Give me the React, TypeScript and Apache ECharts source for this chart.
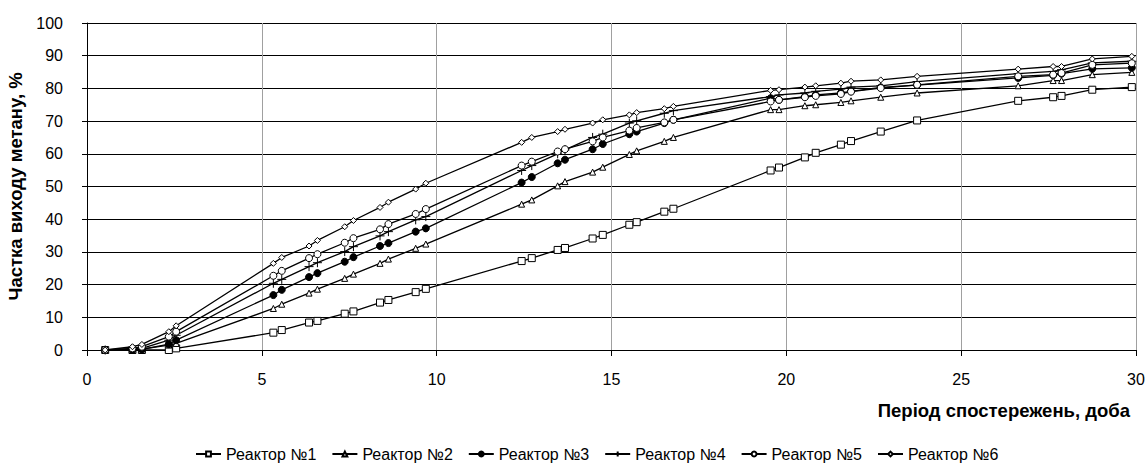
import React, { useEffect, useRef } from "react";
import * as echarts from "echarts";

const days = [0.52, 1.3, 1.57, 2.34, 2.55, 5.33, 5.57, 6.35, 6.59, 7.37, 7.62, 8.38, 8.62, 9.4, 9.69, 12.43, 12.72, 13.46, 13.67, 14.46, 14.75, 15.51, 15.72, 16.51, 16.77, 19.55, 19.79, 20.53, 20.84, 21.56, 21.85, 22.7, 23.74, 26.63, 27.63, 27.87, 28.75, 29.88];

const reactor1 = [0, 0, 0, 0, 0.5, 5.3, 6.1, 8.4, 8.9, 11.1, 11.8, 14.5, 15.3, 17.7, 18.7, 27.2, 28.1, 30.6, 31.2, 34.1, 35.2, 38.3, 39.1, 42.3, 43.2, 54.9, 55.8, 58.9, 60.3, 62.8, 63.9, 66.8, 70.2, 76.2, 77.3, 77.7, 79.6, 80.4];
const reactor2 = [0, 0.2, 0.3, 1.5, 2.0, 12.7, 14.0, 17.4, 18.6, 21.9, 23.2, 26.5, 27.8, 31.1, 32.4, 44.6, 45.9, 50.2, 51.5, 54.4, 55.9, 59.8, 60.9, 63.8, 65.0, 73.5, 73.5, 74.7, 75.0, 75.7, 76.2, 77.3, 78.6, 80.8, 82.4, 82.4, 84.2, 84.9];
const reactor3 = [0, 0.1, 0.2, 1.8, 3.0, 16.8, 18.4, 22.3, 23.5, 27.0, 28.4, 31.8, 32.7, 36.2, 37.2, 51.2, 52.9, 57.1, 58.2, 61.4, 63.0, 66.0, 66.8, 69.4, 70.4, 77.0, 76.5, 77.5, 78.0, 78.6, 79.1, 80.3, 81.0, 83.2, 84.0, 84.5, 86.0, 86.3];
const reactor4 = [0, 0.3, 0.5, 3.0, 4.5, 20.4, 21.6, 25.5, 26.7, 30.1, 31.6, 34.9, 36.2, 39.8, 40.8, 54.9, 56.4, 60.0, 61.2, 65.0, 66.0, 69.4, 70.1, 72.4, 73.2, 77.5, 78.0, 78.6, 79.1, 79.8, 80.4, 80.8, 82.1, 84.5, 85.2, 85.7, 87.8, 88.3];
const reactor5 = [0, 0.5, 1.0, 4.1, 5.6, 22.7, 24.2, 28.1, 29.3, 32.8, 34.2, 36.9, 38.5, 41.6, 43.1, 56.4, 57.6, 60.7, 61.4, 63.8, 65.0, 67.1, 67.9, 69.6, 70.4, 76.0, 76.5, 77.3, 77.7, 78.3, 79.0, 80.1, 81.1, 83.7, 84.2, 84.7, 87.2, 87.7];
const reactor6 = [0, 1.0, 1.7, 5.6, 7.4, 26.5, 28.3, 31.8, 33.5, 37.7, 39.6, 43.6, 45.2, 49.2, 51.0, 63.5, 65.0, 66.8, 67.5, 69.4, 70.4, 71.9, 72.6, 73.8, 74.5, 79.4, 79.6, 80.4, 80.8, 81.6, 82.2, 82.6, 83.7, 85.9, 86.7, 86.7, 89.0, 89.8];

const seriesNames = ["Реактор №1", "Реактор №2", "Реактор №3", "Реактор №4", "Реактор №5", "Реактор №6"];
const xTitle = "Період спостережень, доба";
const yTitle = "Частка виходу метану, %";

const FONT = "'Liberation Sans', Arial, sans-serif";

export default function App() {
  const ref = useRef<HTMLDivElement>(null);
  useEffect(() => {
    if (!ref.current) return;
    const chart = echarts.init(ref.current, null, { renderer: "svg" });
    const values = [reactor1, reactor2, reactor3, reactor4, reactor5, reactor6];
    const styles = [
      { symbol: "rect", size: 7, fill: "#fff" },
      { symbol: "triangle", size: 6, fill: "#fff" },
      { symbol: "circle", size: 7, fill: "#000" },
      { symbol: "path://M0,5L10,5M5,0L5,10", size: 9, fill: "none" },
      { symbol: "circle", size: 7, fill: "#fff" },
      { symbol: "diamond", size: 6, fill: "#fff" },
    ];
    const series = values.map((v, i) => ({
      type: "line",
      name: seriesNames[i],
      data: days.map((d, j) => [d, v[j]]),
      symbol: styles[i].symbol,
      symbolSize: styles[i].size,
      showAllSymbol: true,
      itemStyle: { color: styles[i].fill, borderColor: "#000", borderWidth: 1 },
      lineStyle: { color: "#000", width: 1.3 },
      z: 2 + i,
    }));
    chart.setOption({
      animation: false,
      backgroundColor: "#fff",
      textStyle: { fontFamily: FONT },
      grid: { left: 87, right: 11, top: 23, bottom: 114, containLabel: false, outerBoundsMode: "none" },
      xAxis: {
        type: "value",
        min: 0,
        max: 30,
        interval: 5,
        axisLine: { show: true, lineStyle: { color: "#000", width: 1 } },
        axisTick: { show: true, length: 6, lineStyle: { color: "#000" } },
        axisLabel: { color: "#000", fontSize: 16, fontFamily: FONT, margin: 21 },
        splitLine: { show: true, lineStyle: { color: "#a0a0a0", width: 1 } },
      },
      yAxis: {
        type: "value",
        min: 0,
        max: 100,
        interval: 10,
        name: yTitle,
        nameLocation: "middle",
        nameGap: 61,
        nameRotate: 90,
        nameTextStyle: { color: "#000", fontSize: 18.5, fontWeight: "bold", fontFamily: FONT },
        axisLine: { show: true, lineStyle: { color: "#000", width: 1 } },
        axisTick: { show: true, length: 5, lineStyle: { color: "#000" } },
        axisLabel: { color: "#000", fontSize: 16, fontFamily: FONT, margin: 24 },
        splitLine: { show: true, lineStyle: { color: "#000", width: 1 } },
      },
      legend: {
        bottom: 2,
        left: 195,
        padding: 0,
        itemWidth: 25,
        itemHeight: 6,
        itemGap: 15,
        textStyle: { color: "#000", fontSize: 16, fontFamily: FONT },
        data: seriesNames,
      },
      graphic: [
        {
          type: "text",
          right: 17,
          top: 401,
          style: { text: xTitle, fill: "#000", font: `bold 18.5px ${FONT}` },
        },
      ],
      series,
    });
    return () => chart.dispose();
  }, []);
  return (
    <div
      ref={ref}
      style={{ position: "absolute", left: 0, top: 0, width: 1147, height: 464 }}
    />
  );
}
